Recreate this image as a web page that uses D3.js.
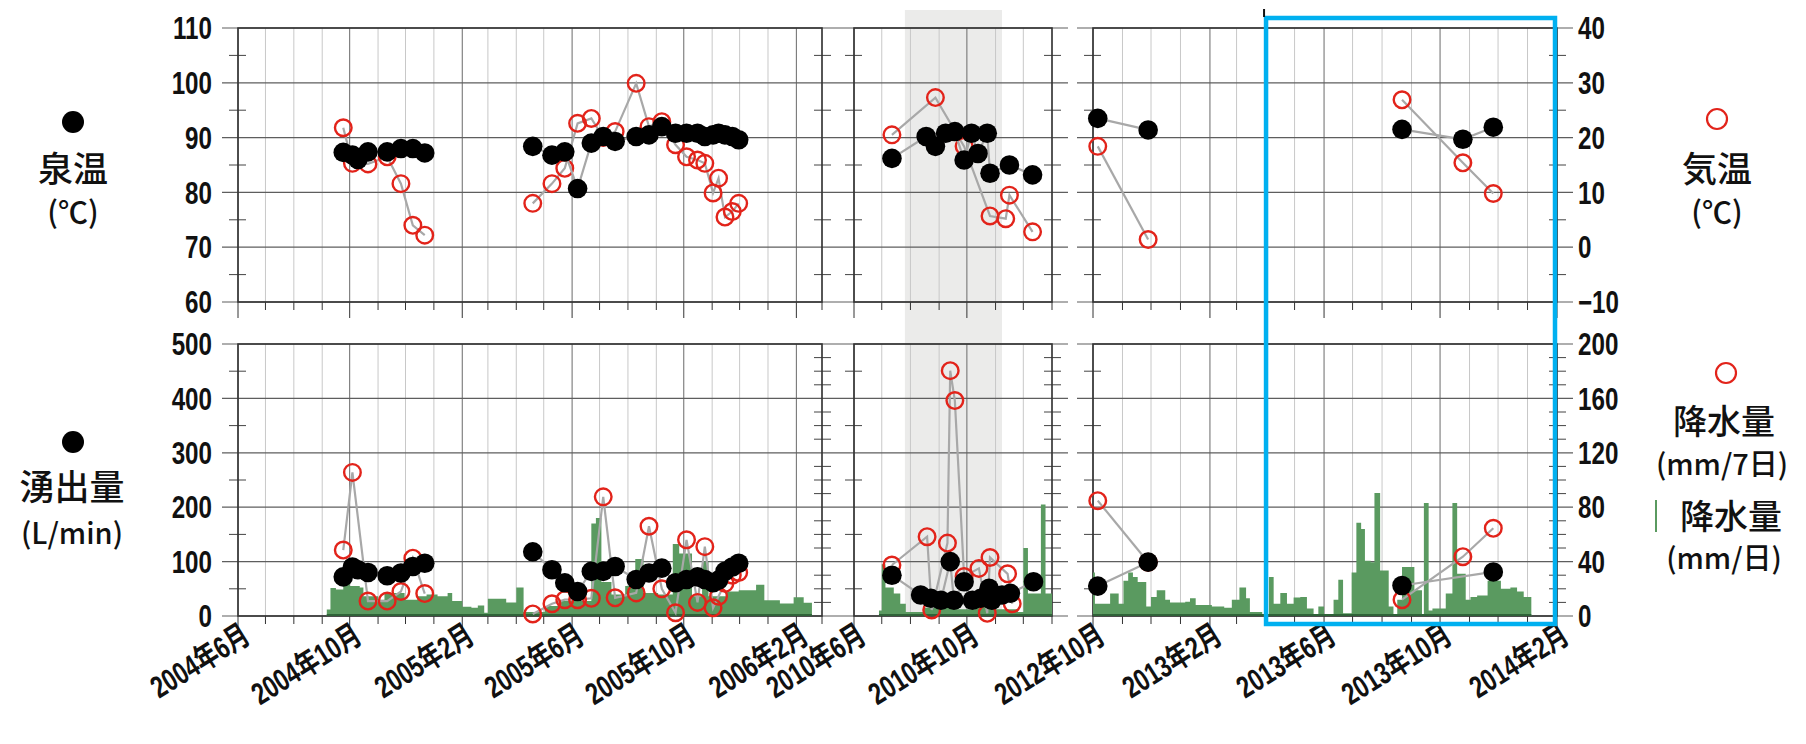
<!DOCTYPE html>
<html>
<head>
<meta charset="utf-8">
<script src="https://d3js.org/d3.v7.min.js"></script>
<style>
  body { margin: 0; background: #fff; }
  svg text { font-family: "Liberation Sans", Arial, "Noto Sans CJK JP", sans-serif; fill: #111; }
  svg text.jp { font-family: "Noto Sans CJK JP", sans-serif; font-weight: 500; }
  svg text.tick { font-weight: bold; }
</style>
</head>
<body>
<svg id="chart" width="1806" height="744"></svg>
<script>
const parse = d3.timeParse("%Y-%m-%d");

// three observation periods shown side by side
const periods = [["2004-06-01", "2006-03-01"], ["2010-06-01", "2011-01-01"], ["2012-10-01", "2014-02-01"]];
const labelMonths = [
  ["2004-06-01", "2004-10-01", "2005-02-01", "2005-06-01", "2005-10-01", "2006-02-01"],
  ["2010-06-01", "2010-10-01"],
  ["2012-10-01", "2013-02-01", "2013-06-01", "2013-10-01", "2014-02-01"]
];
const shadedPeriod = ["2010-07-26", "2010-11-08"];
const boxPeriod = ["2013-04-01", "2014-02-01"];

const tempTicks = [60, 70, 80, 90, 100, 110];
const airTicks = [-10, 0, 10, 20, 30, 40];
const flowTicks = [0, 100, 200, 300, 400, 500];
const rainTicks = [0, 40, 80, 120, 160, 200];

// spring temperature (black dots), null splits the survey runs
const springTemp = [
  ["2004-09-24", 87.3], ["2004-10-04", 86.8], ["2004-10-10", 86.0], ["2004-10-21", 87.4], ["2004-11-11", 87.4],
  ["2004-11-26", 88.0], ["2004-12-09", 88.0], ["2004-12-22", 87.2], null,
  ["2005-04-19", 88.4], ["2005-05-10", 86.8], ["2005-05-24", 87.4], ["2005-06-07", 80.7], ["2005-06-22", 89.0],
  ["2005-07-05", 90.2], ["2005-07-18", 89.3], ["2005-08-10", 90.2], ["2005-08-24", 90.5], ["2005-09-07", 92.0],
  ["2005-09-22", 90.8], ["2005-10-04", 90.8], ["2005-10-16", 90.8], ["2005-10-24", 90.2], ["2005-11-02", 90.5],
  ["2005-11-08", 90.8], ["2005-11-15", 90.5], ["2005-11-23", 90.2], ["2005-11-30", 89.6], null,
  ["2010-07-12", 86.2], ["2010-08-18", 90.2], ["2010-08-28", 88.4], ["2010-09-08", 90.8], ["2010-09-18", 91.1],
  ["2010-09-28", 85.9], ["2010-10-06", 90.8], ["2010-10-13", 87.1], ["2010-10-23", 90.8], ["2010-10-26", 83.5],
  ["2010-11-16", 85.0], ["2010-12-11", 83.2], null,
  ["2012-10-06", 93.5], ["2012-11-28", 91.4], null,
  ["2013-08-22", 91.5], ["2013-10-25", 89.7], ["2013-11-26", 91.9]
];

// air temperature (red circles)
const airTemp = [
  ["2004-09-24", 21.8], ["2004-10-04", 15.3], ["2004-10-21", 15.2], ["2004-11-11", 16.5], ["2004-11-26", 11.6],
  ["2004-12-09", 4.0], ["2004-12-22", 2.2], null,
  ["2005-04-19", 8.0], ["2005-05-10", 11.6], ["2005-05-24", 14.4], ["2005-06-07", 22.6], ["2005-06-22", 23.5],
  ["2005-07-05", 20.0], ["2005-07-18", 21.1], ["2005-08-10", 29.9], ["2005-08-24", 22.0], ["2005-09-07", 22.9],
  ["2005-09-22", 18.7], ["2005-10-04", 16.5], ["2005-10-16", 15.9], ["2005-10-24", 15.3], ["2005-11-02", 9.9],
  ["2005-11-08", 12.6], ["2005-11-15", 5.5], ["2005-11-23", 6.5], ["2005-11-30", 8.0], null,
  ["2010-07-12", 20.5], ["2010-08-28", 27.3], ["2010-09-28", 18.4], ["2010-10-26", 5.7], ["2010-11-12", 5.2],
  ["2010-11-16", 9.5], ["2010-12-11", 2.8], null,
  ["2012-10-06", 18.4], ["2012-11-28", 1.4], null,
  ["2013-08-22", 26.9], ["2013-10-25", 15.4], ["2013-11-26", 9.8]
];

// discharge L/min (black dots)
const flow = [
  ["2004-09-24", 72], ["2004-10-04", 90], ["2004-10-10", 85], ["2004-10-21", 80], ["2004-11-11", 74],
  ["2004-11-26", 79], ["2004-12-09", 91], ["2004-12-22", 97], null,
  ["2005-04-19", 118], ["2005-05-10", 85], ["2005-05-24", 61], ["2005-06-07", 45], ["2005-06-22", 82],
  ["2005-07-05", 82], ["2005-07-18", 91], ["2005-08-10", 67], ["2005-08-24", 79], ["2005-09-07", 88],
  ["2005-09-22", 61], ["2005-10-04", 67], ["2005-10-16", 72], ["2005-10-24", 67], ["2005-11-02", 61],
  ["2005-11-08", 66], ["2005-11-15", 82], ["2005-11-23", 90], ["2005-11-30", 97], null,
  ["2010-07-12", 75], ["2010-08-12", 38.6], ["2010-08-23", 32.5], ["2010-09-03", 29], ["2010-09-13", 100],
  ["2010-09-17", 29], ["2010-09-28", 63], ["2010-10-07", 29], ["2010-10-16", 32.5], ["2010-10-25", 51],
  ["2010-10-28", 29], ["2010-11-08", 38.6], ["2010-11-17", 41.7], ["2010-12-12", 63], null,
  ["2012-10-06", 55], ["2012-11-28", 99], null,
  ["2013-08-22", 56], ["2013-11-26", 81]
];

// precipitation mm / 7 days (red circles)
const rain7d = [
  ["2004-09-24", 48.5], ["2004-10-04", 105.6], ["2004-10-21", 11], ["2004-11-11", 11], ["2004-11-26", 18],
  ["2004-12-09", 42.5], ["2004-12-22", 16.5], null,
  ["2005-04-19", 1.5], ["2005-05-10", 9], ["2005-05-24", 12], ["2005-06-07", 12], ["2005-06-22", 13],
  ["2005-07-05", 87.6], ["2005-07-18", 13.4], ["2005-08-10", 17], ["2005-08-24", 66], ["2005-09-07", 20],
  ["2005-09-22", 2.4], ["2005-10-04", 56], ["2005-10-16", 10], ["2005-10-24", 51], ["2005-11-02", 6],
  ["2005-11-08", 14.5], ["2005-11-15", 24], ["2005-11-23", 30], ["2005-11-30", 32], null,
  ["2010-07-12", 37.5], ["2010-08-19", 58.3], ["2010-08-24", 4.4], ["2010-09-10", 53.6], ["2010-09-13", 180.4],
  ["2010-09-18", 158.4], ["2010-09-28", 29], ["2010-10-14", 35], ["2010-10-23", 2], ["2010-10-26", 43],
  ["2010-11-14", 31], ["2010-11-19", 9], null,
  ["2012-10-06", 84.8], ["2012-11-28", 39.5], null,
  ["2013-08-22", 12], ["2013-10-25", 43.6], ["2013-11-26", 64.5]
];

// daily precipitation mm/day (green steps), one run per period, last entry closes the run
const rainDaily2004 = [
  ["2004-09-06", 4.8], ["2004-09-10", 20.6], ["2004-09-16", 19.4], ["2004-09-24", 24], ["2004-10-01", 22],
  ["2004-10-12", 21], ["2004-10-16", 14.5], ["2004-11-01", 12], ["2004-11-08", 17], ["2004-11-30", 12],
  ["2004-12-14", 14.5], ["2004-12-24", 15.8], ["2005-01-05", 14.5], ["2005-01-16", 17], ["2005-01-21", 11],
  ["2005-02-01", 6.8], ["2005-02-11", 6], ["2005-02-18", 7.8], ["2005-02-25", 2.4], ["2005-03-01", 12.6],
  ["2005-03-21", 10], ["2005-04-01", 21], ["2005-04-09", 3], ["2005-05-02", 7.3], ["2005-05-20", 11],
  ["2005-06-22", 68], ["2005-06-27", 72], ["2005-07-03", 25], ["2005-07-14", 15.8], ["2005-07-29", 22],
  ["2005-08-09", 42], ["2005-08-18", 17], ["2005-09-03", 15.8], ["2005-09-19", 53], ["2005-09-26", 46],
  ["2005-10-10", 14.5], ["2005-10-21", 40], ["2005-10-28", 14.5], ["2005-11-16", 18], ["2005-11-30", 19],
  ["2005-12-19", 23], ["2005-12-28", 11.6], ["2006-01-14", 9.2], ["2006-01-29", 13.8], ["2006-02-09", 9.7],
  ["2006-02-18", 0]
];
const rainDaily2010 = [
  ["2010-06-28", 4], ["2010-07-01", 38], ["2010-07-05", 21], ["2010-07-14", 16.5], ["2010-07-21", 9],
  ["2010-07-27", 3], ["2010-08-15", 6], ["2010-09-01", 8], ["2010-09-20", 5], ["2010-10-10", 7],
  ["2010-11-01", 5], ["2010-11-25", 3], ["2010-12-01", 50], ["2010-12-06", 16.5], ["2010-12-20", 82],
  ["2010-12-25", 16.5], ["2011-01-01", 0]
];
const rainDaily2012 = [
  ["2012-10-01", 32], ["2012-10-03", 9], ["2012-10-19", 16.5], ["2012-10-28", 9], ["2012-11-02", 26],
  ["2012-11-07", 32], ["2012-11-12", 28.6], ["2012-11-17", 25], ["2012-11-26", 7], ["2012-12-01", 14],
  ["2012-12-07", 19], ["2012-12-16", 12], ["2012-12-21", 10], ["2013-01-06", 10.5], ["2013-01-11", 13],
  ["2013-01-17", 8], ["2013-02-03", 7], ["2013-02-16", 6], ["2013-02-24", 12], ["2013-03-04", 21],
  ["2013-03-11", 13], ["2013-03-15", 3], ["2013-03-28", 0.5], ["2013-04-04", 28.6], ["2013-04-09", 9],
  ["2013-04-16", 17], ["2013-04-23", 9], ["2013-04-30", 13.6], ["2013-05-07", 14], ["2013-05-14", 5.6],
  ["2013-05-21", 0], ["2013-05-26", 7], ["2013-06-01", 0], ["2013-06-11", 12], ["2013-06-16", 26.7],
  ["2013-06-21", 2], ["2013-06-30", 32], ["2013-07-05", 68.6], ["2013-07-10", 64], ["2013-07-14", 40.7],
  ["2013-07-20", 39.5], ["2013-07-24", 90.4], ["2013-07-30", 33.5], ["2013-08-08", 7], ["2013-08-13", 1],
  ["2013-08-17", 12], ["2013-08-22", 36], ["2013-09-04", 19], ["2013-09-12", 0.5], ["2013-09-14", 83],
  ["2013-09-19", 4], ["2013-09-23", 5.6], ["2013-10-07", 16.5], ["2013-10-14", 83], ["2013-10-19", 31],
  ["2013-10-28", 12], ["2013-11-02", 14], ["2013-11-09", 15], ["2013-11-20", 26], ["2013-12-04", 20],
  ["2013-12-14", 21], ["2013-12-21", 18], ["2013-12-28", 14], ["2014-01-05", 0]
];
const rainDaily = [rainDaily2004, rainDaily2010, rainDaily2012];

// ---- layout ----
const xRanges = [[238, 822], [854, 1052], [1093, 1557]];
const topRow = [302, 28], botRow = [616, 344];

const svg = d3.select("#chart");

const xs = periods.map((p, i) => d3.scaleTime().domain(p.map(parse)).range(xRanges[i]));
const yTemp = d3.scaleLinear().domain([60, 110]).range(topRow);
const yAir = d3.scaleLinear().domain([-10, 40]).range(topRow);
const yFlow = d3.scaleLinear().domain([0, 500]).range(botRow);
const yRain = d3.scaleLinear().domain([0, 200]).range(botRow);

const rows = [
  {yL: yTemp, yR: yAir, majL: tempTicks, minL: tempTicks.slice(1).map(v => v - 5),
   majR: airTicks, minR: airTicks.slice(1).map(v => v - 5)},
  {yL: yFlow, yR: yRain, majL: flowTicks, minL: flowTicks.slice(1).map(v => v - 50),
   majR: rainTicks, minR: d3.range(0, 201, 10).filter(v => v % 40)}
];

const monthKey = d3.timeFormat("%Y-%m-%d");

// grey band for the shaded period
svg.append("rect")
  .attr("x", xs[1](parse(shadedPeriod[0])))
  .attr("width", xs[1](parse(shadedPeriod[1])) - xs[1](parse(shadedPeriod[0])))
  .attr("y", 10).attr("height", 606)
  .attr("fill", "#ebebea");

function drawFrame(i, row) {
  const x = xs[i];
  const [x0, x1] = xRanges[i];
  const [yb, yt] = row.yL.range();
  const g = svg.append("g");
  const d0 = x.domain()[0], d1 = x.domain()[1];
  const months = d3.timeMonth.range(d0, d3.timeDay.offset(d1, 1));
  const majors = new Set(labelMonths[i]);

  g.selectAll("line.vg").data(months).join("line")
    .attr("x1", d => x(d)).attr("x2", d => x(d))
    .attr("y1", yt).attr("y2", yb)
    .attr("stroke", d => majors.has(monthKey(d)) ? "#6a6a6a" : "#c8c8c8")
    .attr("stroke-width", 1);
  g.selectAll("line.vt").data(months).join("line")
    .attr("x1", d => x(d)).attr("x2", d => x(d))
    .attr("y1", yb).attr("y2", d => yb + (majors.has(monthKey(d)) ? 16 : 8))
    .attr("stroke", "#333").attr("stroke-width", 1);

  g.selectAll("line.hg").data(row.majL).join("line")
    .attr("x1", x0 - 16).attr("x2", x1 + 16)
    .attr("y1", d => row.yL(d)).attr("y2", d => row.yL(d))
    .attr("stroke", "#5e5e5e").attr("stroke-width", 1.2);
  g.selectAll("line.ml").data(row.minL).join("line")
    .attr("x1", x0 - 9).attr("x2", x0 + 8)
    .attr("y1", d => row.yL(d)).attr("y2", d => row.yL(d))
    .attr("stroke", "#444");
  g.selectAll("line.mr").data(row.minR).join("line")
    .attr("x1", x1 - 8).attr("x2", x1 + 9)
    .attr("y1", d => row.yR(d)).attr("y2", d => row.yR(d))
    .attr("stroke", "#444");

  g.append("rect")
    .attr("x", x0).attr("y", yt).attr("width", x1 - x0).attr("height", yb - yt)
    .attr("fill", "none").attr("stroke", "#333").attr("stroke-width", 1.6);

  if (i === 0) {
    g.selectAll("text.yl").data(row.majL).join("text")
      .attr("class", "tick")
      .attr("transform", d => `translate(212,${row.yL(d)}) scale(0.78,1)`)
      .attr("dy", "0.36em")
      .attr("text-anchor", "end").attr("font-size", 31)
      .text(d => d);
  }
  if (i === 2) {
    g.selectAll("text.yr").data(row.majR).join("text")
      .attr("class", "tick")
      .attr("transform", d => `translate(1578,${row.yR(d)}) scale(0.78,1)`)
      .attr("dy", "0.36em")
      .attr("font-size", 31)
      .text(d => d < 0 ? "\u2212" + (-d) : d);
  }
}

rows.forEach(row => xs.forEach((x, i) => drawFrame(i, row)));

// split a series at nulls and hand each run to the period it belongs to
function runs(series) {
  const out = [];
  let cur = [];
  series.forEach(d => {
    if (d === null) { if (cur.length) out.push(cur); cur = []; }
    else cur.push([parse(d[0]), d[1]]);
  });
  if (cur.length) out.push(cur);
  return out.map(r => ({pts: r, p: periods.findIndex(p => r[0][0] >= parse(p[0]) && r[0][0] <= parse(p[1]))}));
}

// green daily precipitation
rainDaily.forEach((r, i) => {
  const pts = r.map(d => [parse(d[0]), d[1]]);
  const x = xs[i];
  svg.append("path")
    .datum(pts)
    .attr("d", d3.area().curve(d3.curveStepAfter)
      .x(d => x(d[0])).y0(yRain(0)).y1(d => yRain(d[1])))
    .attr("fill", "#5a9a60");
  svg.append("line")
    .attr("x1", x(pts[0][0])).attr("x2", x(pts[pts.length - 1][0]))
    .attr("y1", yRain(0) - 1).attr("y2", yRain(0) - 1)
    .attr("stroke", "#2f6338").attr("stroke-width", 2);
});

function drawSeries(series, y, kind) {
  runs(series).forEach(run => {
    const x = xs[run.p];
    const g = svg.append("g").attr("class", kind);
    g.append("path")
      .datum(run.pts)
      .attr("d", d3.line().x(d => x(d[0])).y(d => y(d[1])))
      .attr("fill", "none").attr("stroke", "#a8a8a8").attr("stroke-width", 2.2);
    const c = g.selectAll("circle").data(run.pts).join("circle")
      .attr("cx", d => x(d[0])).attr("cy", d => y(d[1]));
    if (kind === "red") {
      c.attr("r", 8.3).attr("fill", "none").attr("stroke", "#e2231a").attr("stroke-width", 2.4);
    } else {
      c.attr("r", 9.8).attr("fill", "#000");
    }
  });
}

drawSeries(airTemp, yAir, "red");
drawSeries(rain7d, yRain, "red");
drawSeries(springTemp, yTemp, "black");
drawSeries(flow, yFlow, "black");

// month labels under the lower row
const fmt = d3.timeFormat("%Y");
labelMonths.forEach((ms, i) => {
  ms.forEach(m => {
    const d = parse(m);
    const px = xs[i](d);
    svg.append("text")
      .attr("class", "tick")
      .attr("transform", `translate(${px + 14},${641}) rotate(-32) scale(0.74,1)`)
      .attr("text-anchor", "end")
      .attr("font-size", 31)
      .text(`${fmt(d)}年${d.getMonth() + 1}月`);
  });
});

// legends
const legend = svg.append("g");
legend.append("circle").attr("cx", 73).attr("cy", 122).attr("r", 11).attr("fill", "#000");
legend.append("text").attr("class", "jp").attr("x", 73).attr("y", 182).attr("text-anchor", "middle").attr("font-size", 35).text("泉温");
legend.append("text").attr("class", "jp").attr("x", 73).attr("y", 223).attr("text-anchor", "middle").attr("font-size", 30).text("(℃)");

legend.append("circle").attr("cx", 73).attr("cy", 442).attr("r", 11).attr("fill", "#000");
legend.append("text").attr("class", "jp").attr("x", 72).attr("y", 500).attr("text-anchor", "middle").attr("font-size", 35).text("湧出量");
legend.append("text").attr("class", "jp").attr("x", 72).attr("y", 544).attr("text-anchor", "middle").attr("font-size", 29).text("(L/min)");

legend.append("circle").attr("cx", 1717).attr("cy", 119).attr("r", 10).attr("fill", "none").attr("stroke", "#e2231a").attr("stroke-width", 2.2);
legend.append("text").attr("class", "jp").attr("x", 1717).attr("y", 182).attr("text-anchor", "middle").attr("font-size", 35).text("気温");
legend.append("text").attr("class", "jp").attr("x", 1717).attr("y", 223).attr("text-anchor", "middle").attr("font-size", 30).text("(℃)");

legend.append("circle").attr("cx", 1726).attr("cy", 373).attr("r", 10).attr("fill", "none").attr("stroke", "#e2231a").attr("stroke-width", 2.2);
legend.append("text").attr("class", "jp").attr("x", 1724).attr("y", 434).attr("text-anchor", "middle").attr("font-size", 34).text("降水量");
legend.append("text").attr("class", "jp").attr("x", 1722).attr("y", 475).attr("text-anchor", "middle").attr("font-size", 29).text("(mm/7日)");
legend.append("line").attr("x1", 1656).attr("x2", 1656).attr("y1", 500).attr("y2", 532).attr("stroke", "#5a9a60").attr("stroke-width", 2);
legend.append("text").attr("class", "jp").attr("x", 1731).attr("y", 529).attr("text-anchor", "middle").attr("font-size", 34).text("降水量");
legend.append("text").attr("class", "jp").attr("x", 1724).attr("y", 569).attr("text-anchor", "middle").attr("font-size", 29).text("(mm/日)");

// highlight box over the latest survey
const bx0 = xs[2](parse(boxPeriod[0])), bx1 = xs[2](parse(boxPeriod[1]));
svg.append("rect")
  .attr("x", bx0).attr("y", 18).attr("width", bx1 - bx0 - 2).attr("height", 606)
  .attr("fill", "none").attr("stroke", "#00b0f0").attr("stroke-width", 4.5);
svg.append("line")
  .attr("x1", bx0 - 2).attr("x2", bx0 - 2).attr("y1", 9).attr("y2", 17)
  .attr("stroke", "#111").attr("stroke-width", 2);
</script>
</body>
</html>
